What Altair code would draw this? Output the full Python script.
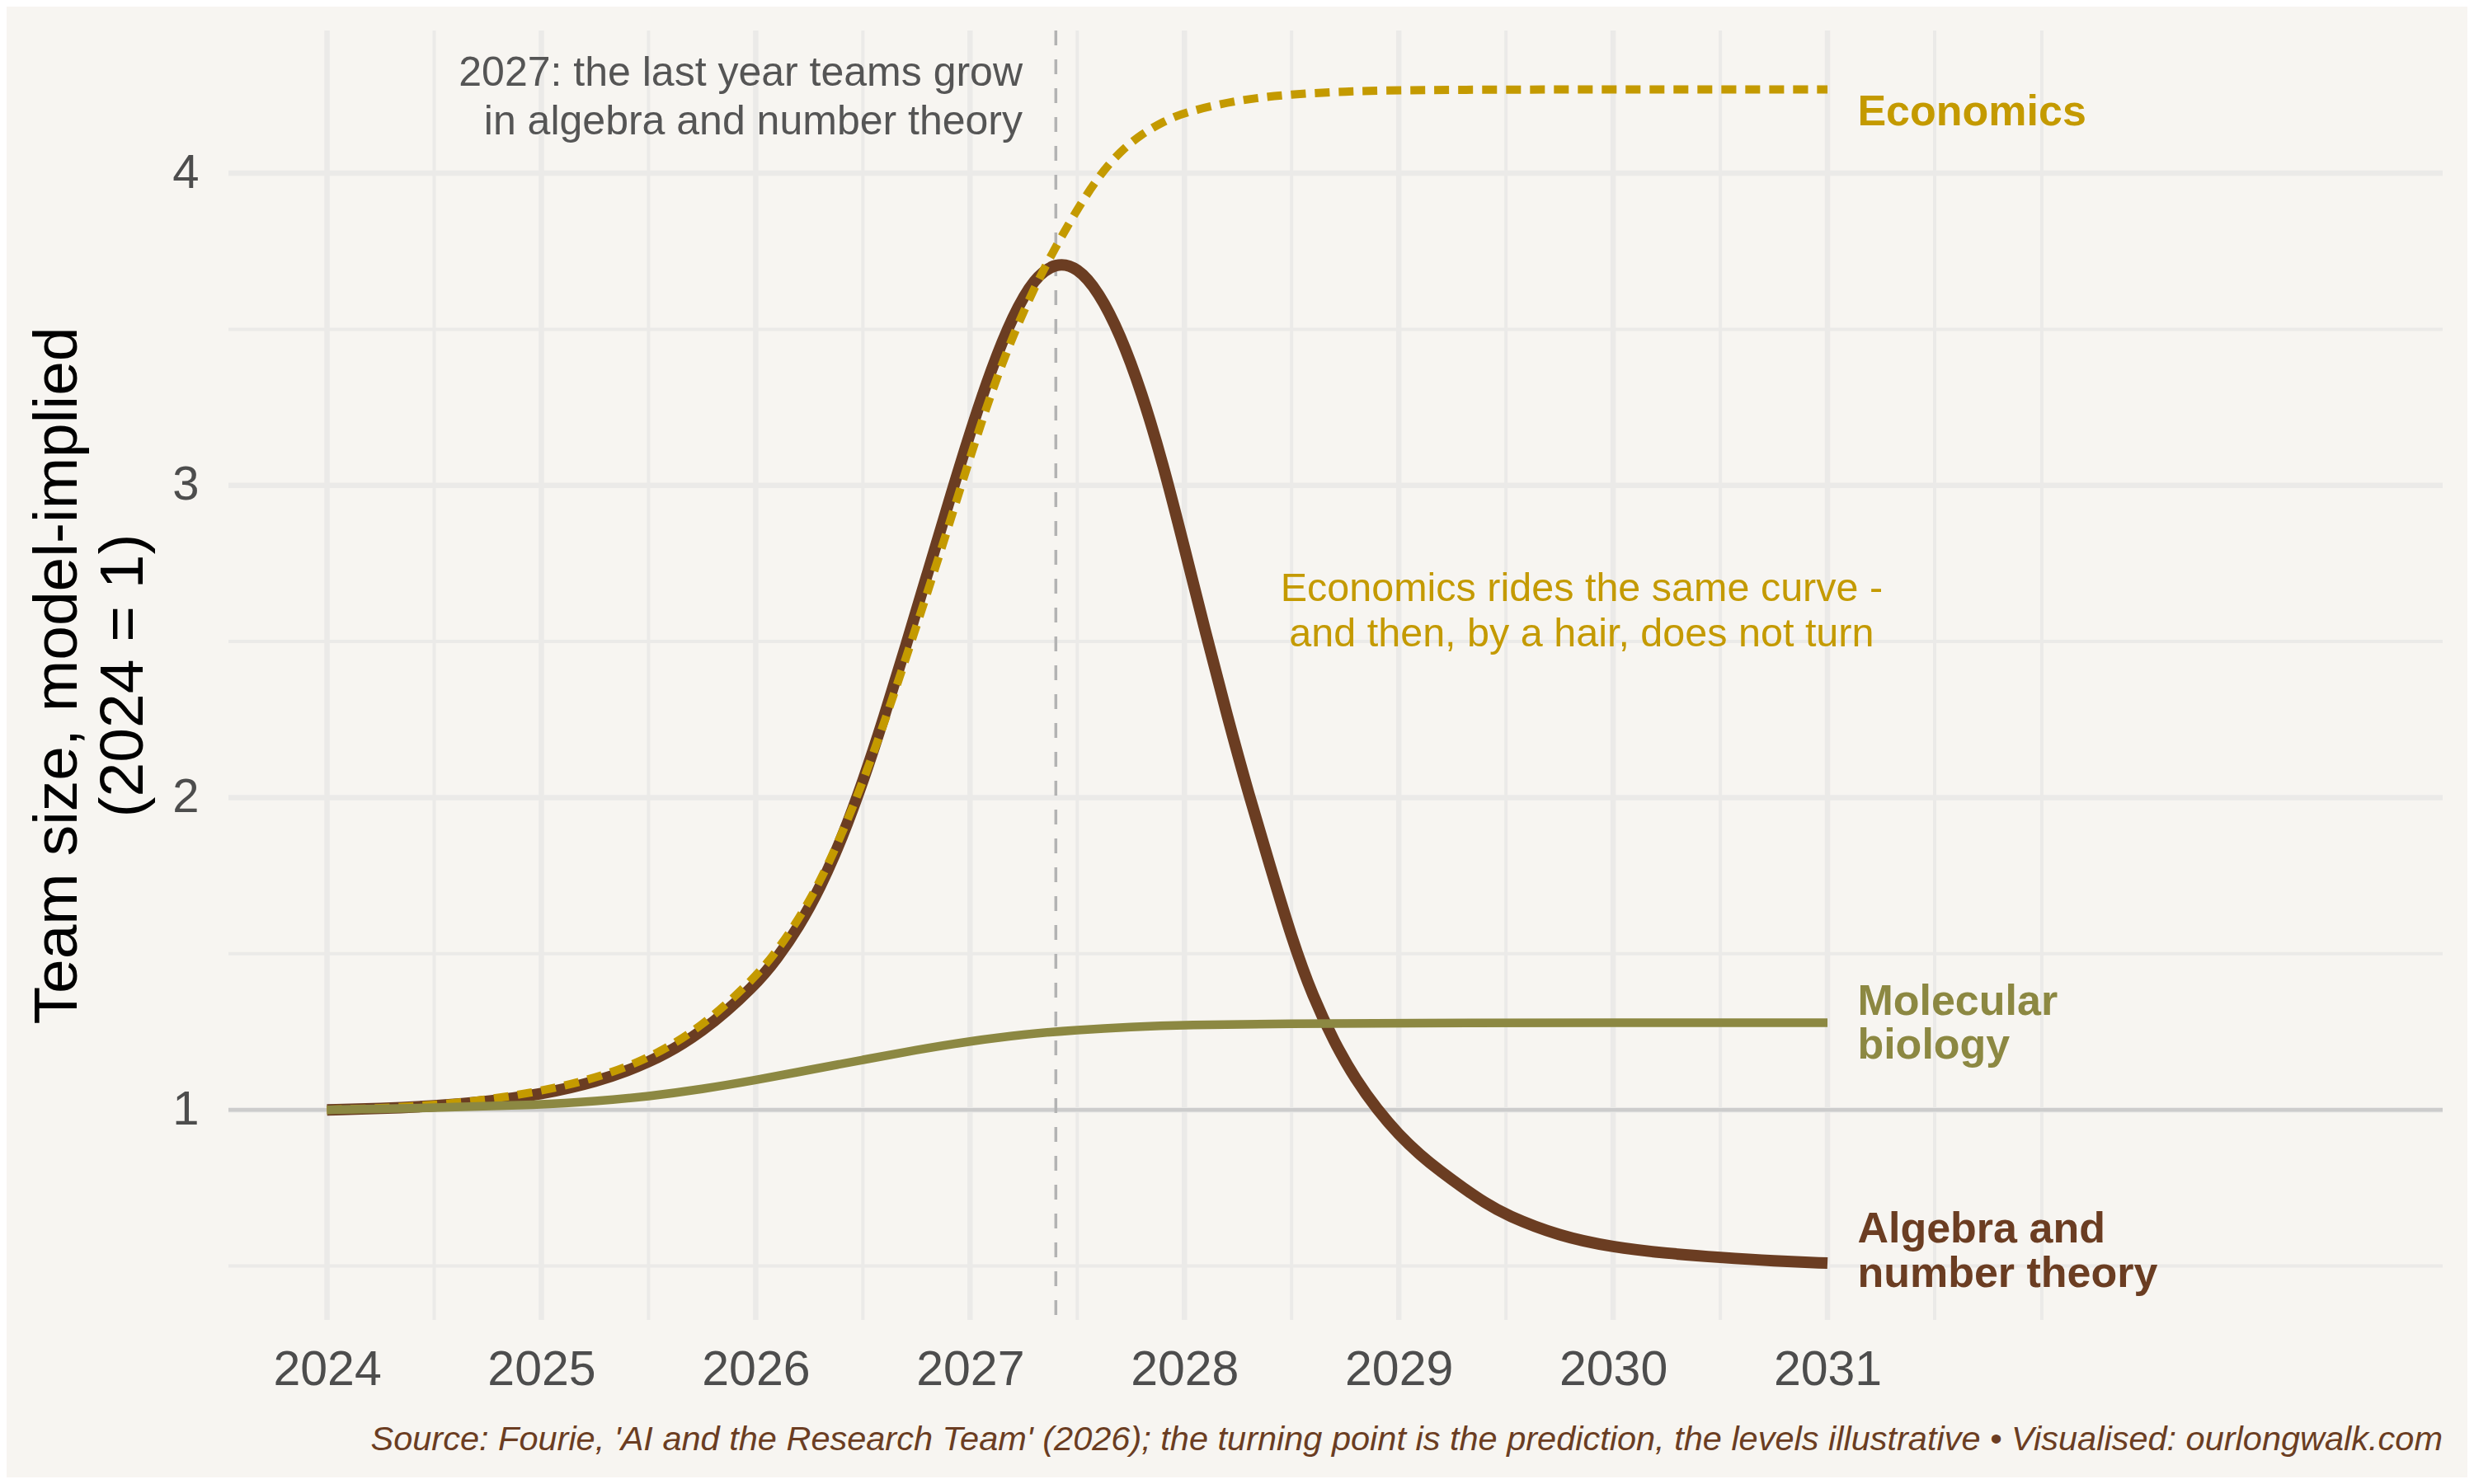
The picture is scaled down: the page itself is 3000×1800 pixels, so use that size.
import altair as alt
import pandas as pd

# ---------------- data ----------------
years_alg = [2024.0, 2024.25, 2024.5, 2024.75, 2025.0, 2025.25, 2025.5, 2025.75,
             2026.0, 2026.1, 2026.2, 2026.3, 2026.4, 2026.5, 2026.6, 2026.7,
             2026.8, 2026.9, 2027.0, 2027.1, 2027.2, 2027.3, 2027.4, 2027.5,
             2027.6, 2027.7, 2027.8, 2027.9, 2028.0, 2028.1, 2028.2, 2028.3,
             2028.4, 2028.5, 2028.6, 2028.7, 2028.8, 2028.9, 2029.0, 2029.1,
             2029.2, 2029.3, 2029.4, 2029.5, 2029.75, 2030.0, 2030.25, 2030.5,
             2030.75, 2031.0]
algebra = [1.000, 1.004, 1.012, 1.026, 1.050, 1.088, 1.148, 1.245,
           1.400, 1.485, 1.585, 1.710, 1.865, 2.050, 2.260, 2.485,
           2.715, 2.945, 3.170, 3.375, 3.545, 3.665, 3.715, 3.700,
           3.620, 3.485, 3.300, 3.070, 2.800, 2.525, 2.260, 2.010,
           1.780, 1.550, 1.360, 1.215, 1.095, 1.000, 0.920, 0.855,
           0.800, 0.750, 0.703, 0.663, 0.595, 0.560, 0.540, 0.527,
           0.516, 0.509]

years_eco = [2024.0, 2024.25, 2024.5, 2024.75, 2025.0, 2025.25, 2025.5, 2025.75,
             2026.0, 2026.1, 2026.2, 2026.3, 2026.4, 2026.5, 2026.6, 2026.7,
             2026.8, 2026.9, 2027.0, 2027.1, 2027.2, 2027.3, 2027.4, 2027.5,
             2027.6, 2027.7, 2027.8, 2027.9, 2028.0, 2028.25, 2028.5, 2028.75,
             2029.0, 2029.5, 2030.0, 2030.5, 2031.0]
economics = [1.000, 1.005, 1.015, 1.032, 1.060, 1.100, 1.163, 1.265,
             1.425, 1.510, 1.610, 1.730, 1.880, 2.050, 2.240, 2.445,
             2.655, 2.870, 3.090, 3.300, 3.480, 3.635, 3.765, 3.885,
             3.990, 4.070, 4.125, 4.165, 4.195, 4.235, 4.253, 4.262,
             4.266, 4.268, 4.268, 4.268, 4.268]

years_mol = [2024.0, 2024.5, 2025.0, 2025.25, 2025.5, 2025.75, 2026.0, 2026.25,
             2026.5, 2026.75, 2027.0, 2027.25, 2027.5, 2027.75, 2028.0, 2028.5,
             2029.0, 2030.0, 2031.0]
molecular = [1.000, 1.006, 1.016, 1.027, 1.043, 1.066, 1.095, 1.128,
             1.160, 1.192, 1.220, 1.242, 1.256, 1.266, 1.272, 1.276,
             1.278, 1.279, 1.279]

x_ticks = [2024, 2025, 2026, 2027, 2028, 2029, 2030, 2031]
x_minor = [2024.5, 2025.5, 2026.5, 2027.5, 2028.5, 2029.5, 2030.5, 2031.5, 2032]
y_ticks = [1, 2, 3, 4]
y_minor = [0.5, 1.5, 2.5, 3.5]

turn_year = [2027.4]
baseline_level = [1]

note_turn = ["2027: the last year teams grow", "in algebra and number theory"]
note_eco = ["Economics rides the same curve -", "and then, by a hair, does not turn"]
label_eco = "Economics"
label_mol = ["Molecular", "biology"]
label_alg = ["Algebra and", "number theory"]
y_title = ["Team size, model-implied", "(2024 = 1)"]
caption = ("Source: Fourie, 'AI and the Research Team' (2026); the turning point is the "
           "prediction, the levels illustrative \u2022 Visualised: ourlongwalk.com")

# ---------------- styling ----------------
BG = "#F7F5F1"
BROWN = "#6B3D22"
GOLD = "#C49A00"
OLIVE = "#8C8842"
GRID = "#EBEAE8"
FONT = "Liberation Sans"
W, H = 2685, 1564

x_scale = alt.Scale(domain=[2023.54, 2033.87], nice=False, zero=False)
y_scale = alt.Scale(domain=[0.327, 4.457], nice=False, zero=False)

x_axis = alt.Axis(values=x_ticks, format="d", labelFontSize=59, labelFont=FONT,
                  labelColor="#4D4D4D", labelPadding=31, ticks=False, tickSize=0,
                  domain=False, grid=False, title="", labelOverlap=False,
                  labelFlush=False)
y_axis = alt.Axis(values=y_ticks, format="d", labelFontSize=58, labelFont=FONT,
                  labelColor="#4D4D4D", labelPadding=36, ticks=False, tickSize=0,
                  domain=False, grid=False, title=y_title, titleFont=FONT,
                  titleFontSize=75, titleFontWeight="normal", titleColor="#000000",
                  titleAngle=270, titleAlign="center", titleBaseline="alphabetic",
                  titleX=-185, titleY=782, titleLineHeight=80, labelOverlap=False)


# every layer carries the same axis definition so the shared axes merge cleanly
def X(field):
    return alt.X(field, scale=x_scale, axis=x_axis)


def Y(field):
    return alt.Y(field, scale=y_scale, axis=y_axis)


df_alg = pd.DataFrame({"year": years_alg, "value": algebra})
df_eco = pd.DataFrame({"year": years_eco, "value": economics})
df_mol = pd.DataFrame({"year": years_mol, "value": molecular})


def pt(x, y):
    return pd.DataFrame({"px": [x], "py": [y]})


grid_major_x = alt.Chart(pd.DataFrame({"gx": x_ticks})).mark_rule(
    color=GRID, strokeWidth=6.5).encode(x=X("gx:Q"))
grid_major_y = alt.Chart(pd.DataFrame({"gy": y_ticks})).mark_rule(
    color=GRID, strokeWidth=6.5).encode(y=Y("gy:Q"))
grid_minor_x = alt.Chart(pd.DataFrame({"mx": x_minor})).mark_rule(
    color=GRID, strokeWidth=4).encode(x=X("mx:Q"))
grid_minor_y = alt.Chart(pd.DataFrame({"my": y_minor})).mark_rule(
    color=GRID, strokeWidth=4).encode(y=Y("my:Q"))

ref_line = alt.Chart(pd.DataFrame({"ry": baseline_level})).mark_rule(
    color="#CCCCCC", strokeWidth=4.5).encode(y=Y("ry:Q"))
turn_line = alt.Chart(pd.DataFrame({"tx": turn_year})).mark_rule(
    color="#B3B3B3", strokeWidth=3.5, strokeDash=[18, 17]).encode(x=X("tx:Q"))

line_alg = alt.Chart(df_alg).mark_line(color=BROWN, strokeWidth=14,
                                       interpolate="basis", strokeCap="butt").encode(
    x=X("year:Q"), y=Y("value:Q"))
line_eco = alt.Chart(df_eco).mark_line(color=GOLD, strokeWidth=10, strokeDash=[18, 11],
                                       interpolate="basis", strokeCap="butt").encode(
    x=X("year:Q"), y=Y("value:Q"))
line_mol = alt.Chart(df_mol).mark_line(color=OLIVE, strokeWidth=10.5,
                                       interpolate="basis", strokeCap="butt").encode(
    x=X("year:Q"), y=Y("value:Q"))

t_turn = alt.Chart(pt(2027.245, 4.28)).mark_text(
    text=note_turn, font=FONT, fontSize=50, color="#555555",
    align="right", baseline="alphabetic", lineHeight=59).encode(x=X("px:Q"), y=Y("py:Q"))
t_eco_note = alt.Chart(pt(2029.853, 2.629)).mark_text(
    text=note_eco, font=FONT, fontSize=48.5, color=GOLD,
    align="center", baseline="alphabetic", lineHeight=55).encode(x=X("px:Q"), y=Y("py:Q"))
t_eco = alt.Chart(pt(2031.14, 4.153)).mark_text(
    text=label_eco, font=FONT, fontSize=52, fontWeight="bold",
    color=GOLD, align="left", baseline="alphabetic").encode(x=X("px:Q"), y=Y("py:Q"))
t_mol = alt.Chart(pt(2031.14, 1.303)).mark_text(
    text=label_mol, font=FONT, fontSize=52, fontWeight="bold",
    color=OLIVE, align="left", baseline="alphabetic", lineHeight=53).encode(
    x=X("px:Q"), y=Y("py:Q"))
t_alg = alt.Chart(pt(2031.14, 0.5757)).mark_text(
    text=label_alg, font=FONT, fontSize=52, fontWeight="bold",
    color=BROWN, align="left", baseline="alphabetic", lineHeight=54.5).encode(
    x=X("px:Q"), y=Y("py:Q"))
t_caption = alt.Chart(pd.DataFrame({"k": [0]})).mark_text(
    text=caption, font=FONT, fontSize=41.5, fontStyle="italic", color=BROWN,
    align="right", baseline="alphabetic").encode(x=alt.value(W), y=alt.value(1722))

chart = alt.layer(
    grid_major_x, grid_major_y, grid_minor_x, grid_minor_y, ref_line, turn_line,
    line_alg, line_eco, line_mol,
    t_turn, t_eco_note, t_eco, t_mol, t_alg, t_caption
).properties(
    width=W, height=H, background=BG,
    padding={"left": 269, "top": 29, "right": 30, "bottom": 191},
    autosize=alt.AutoSizeParams(type="none"),
).configure_view(strokeWidth=0)

chart.save("out.html", embed_options={"renderer": "svg", "actions": False})
